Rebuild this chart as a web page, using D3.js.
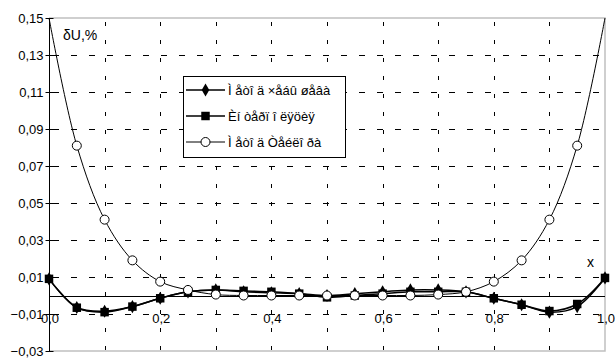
<!DOCTYPE html>
<html lang="en">
<head>
    <meta charset="UTF-8">
    <title>dU chart</title>
    <script src="https://d3js.org/d3.v7.min.js"></script>
    <style>
        body { margin: 0; background: #fff; }
        svg { font-family: "Liberation Sans", Arial, sans-serif; }
    </style>
</head>
<body>
    <div id="chart"></div>
    <script>
        // x points along the interval
        const xs = [0, 0.05, 0.1, 0.15, 0.2, 0.25, 0.3, 0.35, 0.4, 0.45, 0.5,
                    0.55, 0.6, 0.65, 0.7, 0.75, 0.8, 0.85, 0.9, 0.95, 1.0];

        // series values
        const chebyshev = [0.009, -0.0065, -0.0085, -0.006, -0.0015, 0.002, 0.003, 0.002, 0.0015, 0.001, 0.0,
                           0.001, 0.002, 0.003, 0.003, 0.002, -0.0015, -0.005, -0.009, -0.006, 0.0095];
        const interp = [0.009, -0.0066, -0.009, -0.006, -0.0015, 0.002, 0.003, 0.0025, 0.002, 0.001, -0.001,
                        0.0, 0.001, 0.002, 0.002, 0.002, -0.0015, -0.005, -0.0084, -0.0046, 0.0095];
        const taylor = [0.15, 0.081, 0.041, 0.019, 0.0075, 0.003, 0.0005, 0.0, 0.0, 0.0, 0.0,
                        0.0, 0.0, 0.0, 0.0005, 0.002, 0.0075, 0.019, 0.041, 0.081, 0.15];

        const seriesNames = ["Ì åòî ä ×åáû øåâà", "Èí òåðï î ëÿöèÿ", "Ì åòî ä Òåéëî ðà"];

        const yTicks = [0.15, 0.13, 0.11, 0.09, 0.07, 0.05, 0.03, 0.01, -0.01, -0.03];
        const xTicks = [0, 0.2, 0.4, 0.6, 0.8, 1.0];
        const xGrid = [0.1, 0.2, 0.3, 0.4, 0.5, 0.6, 0.7, 0.8, 0.9];

        const W = 615, H = 358;
        const margin = {top: 18, right: 10, bottom: 7, left: 49};

        const svg = d3.select("#chart").append("svg")
            .attr("width", W)
            .attr("height", H);

        const x = d3.scaleLinear().domain([0, 1]).range([margin.left, W - margin.right]);
        const y = d3.scaleLinear().domain([-0.03, 0.15]).range([H - margin.bottom, margin.top]);

        const fmt = d => d3.format(".2f")(d).replace(".", ",");
        const fmtX = d => d3.format(".1f")(d).replace(".", ",");

        // plot border (light grey, top/right/bottom)
        svg.append("path")
            .attr("d", `M${x(0)},${y(0.15)}H${x(1)}V${y(-0.03)}H${x(0)}`)
            .attr("fill", "none")
            .attr("stroke", "#c0c0c0")
            .attr("stroke-width", 1.5);

        // horizontal dashed grid
        svg.selectAll(".hgrid")
            .data(yTicks.filter(d => d < 0.15 && d > -0.03))
            .enter().append("line")
            .attr("x1", x(0) + 4).attr("x2", x(1))
            .attr("y1", d => Math.round(y(d)) + 0.5).attr("y2", d => Math.round(y(d)) + 0.5)
            .attr("stroke", "#000")
            .attr("stroke-dasharray", "6,12");

        // vertical dashed grid
        svg.selectAll(".vgrid")
            .data(xGrid)
            .enter().append("line")
            .attr("x1", d => Math.round(x(d)) + 0.5).attr("x2", d => Math.round(x(d)) + 0.5)
            .attr("y1", y(0.15) + 4).attr("y2", y(-0.03))
            .attr("stroke", "#000")
            .attr("stroke-dasharray", "4,14");

        // zero line
        svg.append("line")
            .attr("x1", x(0)).attr("x2", x(1))
            .attr("y1", Math.round(y(0)) + 0.5).attr("y2", Math.round(y(0)) + 0.5)
            .attr("stroke", "#000");

        // y axis
        const yAxis = svg.append("g")
            .attr("transform", `translate(${x(0) + 0.5},0)`)
            .call(d3.axisLeft(y).tickValues(yTicks).tickFormat(fmt).tickSize(4).tickPadding(2));
        yAxis.select(".domain").attr("d", `M0,${y(0.15)}V${y(-0.03)}`);
        yAxis.selectAll(".tick line").attr("x1", -4).attr("x2", 4);
        yAxis.selectAll("text").style("font-size", "13px").attr("fill", "#000")
            .attr("font-family", "Liberation Sans, Arial, sans-serif");

        // x tick labels hang below the zero line
        svg.selectAll(".xlab")
            .data(xTicks)
            .enter().append("text")
            .attr("x", d => x(d) + 1)
            .attr("y", y(0) + 27)
            .attr("text-anchor", "middle")
            .style("font-size", "13px")
            .text(fmtX);

        // axis titles
        svg.append("text").attr("x", 63).attr("y", 40).style("font-size", "14px").text("δU,%");
        svg.append("text").attr("x", 587).attr("y", 267).style("font-size", "14px").text("x");

        const line = d3.line()
            .x((d, i) => x(xs[i]))
            .y(d => y(d))
            .curve(d3.curveCatmullRom.alpha(0.5));

        // Taylor (thin line, open circles)
        svg.append("path").datum(taylor)
            .attr("fill", "none").attr("stroke", "#000").attr("stroke-width", 1)
            .attr("d", line);
        // interpolation
        svg.append("path").datum(interp)
            .attr("fill", "none").attr("stroke", "#000").attr("stroke-width", 1.5)
            .attr("d", line);
        // Chebyshev
        svg.append("path").datum(chebyshev)
            .attr("fill", "none").attr("stroke", "#000").attr("stroke-width", 1.5)
            .attr("d", line);

        const sq = d3.symbol().type(d3.symbolSquare).size(72);
        const dia = d3.symbol().type(d3.symbolDiamond).size(50);

        svg.selectAll(".sq")
            .data(interp)
            .enter().append("path")
            .attr("transform", (d, i) => `translate(${x(xs[i])},${y(d)})`)
            .attr("d", sq)
            .attr("fill", "#000");

        svg.selectAll(".dia")
            .data(chebyshev)
            .enter().append("path")
            .attr("transform", (d, i) => `translate(${x(xs[i])},${y(d)})`)
            .attr("d", dia)
            .attr("fill", "#000");

        svg.selectAll(".circ")
            .data(taylor.map((d, i) => [xs[i], d]).filter(d => d[0] > 0 && d[0] < 1))
            .enter().append("circle")
            .attr("cx", d => x(d[0]))
            .attr("cy", d => y(d[1]))
            .attr("r", 4.5)
            .attr("fill", "#fff")
            .attr("stroke", "#000");

        // legend
        const lg = svg.append("g");
        lg.append("rect")
            .attr("x", 183.5).attr("y", 76.5)
            .attr("width", 162).attr("height", 81)
            .attr("fill", "#fff").attr("stroke", "#000");

        const markers = [
            g => g.append("path").attr("d", dia).attr("fill", "#000"),
            g => g.append("path").attr("d", sq).attr("fill", "#000"),
            g => g.append("circle").attr("r", 4.5).attr("fill", "#fff").attr("stroke", "#000")
        ];

        seriesNames.forEach((name, i) => {
            const ly = 90 + i * 26;
            lg.append("line")
                .attr("x1", 186).attr("x2", 225)
                .attr("y1", ly).attr("y2", ly)
                .attr("stroke", "#000")
                .attr("stroke-width", i < 2 ? 1.5 : 1);
            markers[i](lg.append("g").attr("transform", `translate(205.5,${ly})`));
            lg.append("text")
                .attr("x", 228).attr("y", ly + 4.5)
                .style("font-size", "13px")
                .text(name);
        });
    </script>
</body>
</html>
